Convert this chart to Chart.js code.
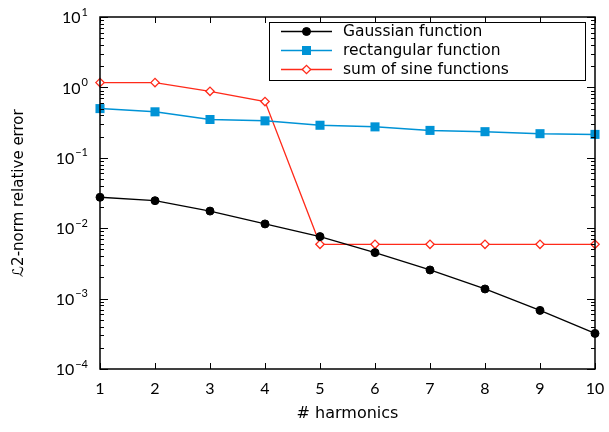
<!DOCTYPE html>
<html>
<head>
<meta charset="utf-8">
<script src="https://cdn.jsdelivr.net/npm/chart.js@4/dist/chart.umd.min.js"></script>
<style>
html,body{margin:0;padding:0;background:#fff;}
#wrap{width:609px;height:432px;position:relative;}
</style>
</head>
<body>
<div id="wrap"><canvas id="c" width="609" height="432"></canvas></div>
<script>
// ---- data ----
const harmonics = [1, 2, 3, 4, 5, 6, 7, 8, 9, 10];
const gaussian = [0.0275, 0.0246, 0.0175, 0.0115, 0.0076, 0.0045, 0.00255, 0.00137, 0.00068, 0.00032];
const rectangular = [0.50, 0.45, 0.35, 0.335, 0.29, 0.275, 0.245, 0.235, 0.22, 0.215];
const sineSum = [1.17, 1.17, 0.88, 0.63, 0.0059, 0.0059, 0.0059, 0.0059, 0.0059, 0.0059];
const seriesNames = ['Gaussian function', 'rectangular function', 'sum of sine functions'];
const yExponents = [-4, -3, -2, -1, 0, 1];
const xTitle = '# harmonics';
const yTitle = 'ℒ2-norm relative error';

const NUMFONT = 'Lato, "DejaVu Sans", sans-serif';
const TXTFONT = '"DejaVu Sans", sans-serif';

function pts(vals) { return harmonics.map((h, i) => ({x: h, y: vals[i]})); }
function supLabel(e) { return e < 0 ? '\u2212' + Math.abs(e) : String(e); }

const decoPlugin = {
  id: 'deco',
  afterDraw(chart) {
    const ctx = chart.ctx;
    const xs = chart.scales.x, ys = chart.scales.y;
    const a = chart.chartArea;
    ctx.save();
    ctx.strokeStyle = '#000';
    // ticks x
    ctx.lineWidth = 1;
    harmonics.forEach(h => {
      const px = Math.round(xs.getPixelForValue(h)) + 0.5;
      ctx.beginPath();
      ctx.moveTo(px, a.bottom); ctx.lineTo(px, a.bottom - 6);
      ctx.moveTo(px, a.top); ctx.lineTo(px, a.top + 6);
      ctx.stroke();
    });
    // ticks y
    for (let e = yExponents[0]; e <= yExponents[yExponents.length - 1]; e++) {
      for (let m = 1; m <= 9; m++) {
        if (e === yExponents[yExponents.length - 1] && m > 1) break;
        const v = m * Math.pow(10, e);
        const py = Math.round(ys.getPixelForValue(v)) + 0.5;
        const len = m === 1 ? 8 : 4;
        ctx.beginPath();
        ctx.moveTo(a.left, py); ctx.lineTo(a.left + len, py);
        ctx.moveTo(a.right, py); ctx.lineTo(a.right - len, py);
        ctx.stroke();
      }
    }
    // frame
    ctx.lineWidth = 1.5;
    ctx.strokeRect(a.left, a.top, a.right - a.left, a.bottom - a.top);

    // y tick labels with superscripts
    ctx.fillStyle = '#000';
    ctx.textBaseline = 'middle';
    ctx.textAlign = 'right';
    const rightX = a.left - 12;
    yExponents.forEach(e => {
      const py = ys.getPixelForValue(Math.pow(10, e));
      const sup = supLabel(e);
      ctx.font = '11px ' + NUMFONT;
      const w = ctx.measureText(sup).width;
      ctx.fillText(sup, rightX, py - 5);
      ctx.font = '16px ' + NUMFONT;
      ctx.fillText('10', rightX - w - 1, py + 1);
    });

    // axis titles
    ctx.font = '16px ' + TXTFONT;
    ctx.textAlign = 'center';
    ctx.textBaseline = 'middle';
    ctx.fillText(xTitle, (a.left + a.right) / 2, 414);
    ctx.save();
    ctx.font = '15px ' + TXTFONT;
    ctx.translate(19, (a.top + a.bottom) / 2);
    ctx.rotate(-Math.PI / 2);
    ctx.fillText(yTitle, 0, 0);
    ctx.restore();

    // legend
    const lx = 269, ly = 22, lw = 316, lh = 58;
    ctx.fillStyle = '#fff';
    ctx.fillRect(lx, ly, lw, lh);
    ctx.lineWidth = 1;
    ctx.strokeStyle = '#000';
    ctx.strokeRect(lx + 0.5, ly + 0.5, lw, lh);
    const rows = [31.5, 50.5, 69.5];
    chart.data.datasets.forEach((ds, i) => {
      const y = rows[i];
      ctx.strokeStyle = ds.borderColor;
      ctx.lineWidth = ds.borderWidth;
      ctx.beginPath();
      ctx.moveTo(281, y); ctx.lineTo(332, y);
      ctx.stroke();
      ctx.save();
      ctx.fillStyle = ds.pointBackgroundColor;
      ctx.strokeStyle = ds.pointBorderColor;
      ctx.lineWidth = ds.pointBorderWidth;
      Chart.helpers.drawPoint(ctx, {
        pointStyle: ds.pointStyle, radius: ds.pointRadius, borderWidth: ds.pointBorderWidth, rotation: 0
      }, 306.5, y);
      ctx.restore();
      ctx.fillStyle = '#000';
      ctx.font = '15.5px ' + TXTFONT;
      ctx.textAlign = 'left';
      ctx.textBaseline = 'middle';
      ctx.fillText(seriesNames[i], 343, y);
    });
    ctx.restore();
  }
};

new Chart(document.getElementById('c'), {
  type: 'line',
  data: {
    datasets: [
      {
        label: seriesNames[0], data: pts(gaussian),
        borderColor: '#000000', borderWidth: 1.3,
        pointStyle: 'circle', pointRadius: 4, pointBorderWidth: 1,
        pointBackgroundColor: '#000000', pointBorderColor: '#000000',
        clip: false
      },
      {
        label: seriesNames[1], data: pts(rectangular),
        borderColor: '#0093d6', borderWidth: 1.5,
        pointStyle: 'rect', pointRadius: 6.4, pointBorderWidth: 0,
        pointBackgroundColor: '#0093d6', pointBorderColor: '#0093d6',
        clip: false
      },
      {
        label: seriesNames[2], data: pts(sineSum),
        borderColor: '#ff2a1a', borderWidth: 1.3,
        pointStyle: 'rectRot', pointRadius: 4.2, pointBorderWidth: 1.3,
        pointBackgroundColor: '#ffffff', pointBorderColor: '#ff2a1a',
        clip: false
      }
    ]
  },
  options: {
    responsive: false,
    animation: false,
    devicePixelRatio: 1,
    layout: { padding: { top: 17, right: 14, left: 0, bottom: 0 } },
    plugins: { legend: { display: false }, tooltip: { enabled: false } },
    elements: { line: { tension: 0 } },
    scales: {
      x: {
        type: 'linear', min: harmonics[0], max: harmonics[harmonics.length - 1],
        grid: { display: false, drawTicks: false }, border: { display: false },
        afterBuildTicks: s => { s.ticks = harmonics.map(v => ({value: v})); },
        afterFit: s => { s.height = 63; s.paddingLeft = 0; s.paddingRight = 0; },
        ticks: { color: '#000', padding: 10, font: { family: NUMFONT, size: 16 }, maxRotation: 0, autoSkip: false,
                 callback: v => String(v) }
      },
      y: {
        type: 'logarithmic', min: Math.pow(10, yExponents[0]), max: Math.pow(10, yExponents[yExponents.length - 1]),
        grid: { display: false, drawTicks: false }, border: { display: false },
        afterFit: s => { s.width = 100; s.paddingTop = 0; s.paddingBottom = 0; },
        ticks: { display: false }
      }
    }
  },
  plugins: [decoPlugin]
});
</script>
</body>
</html>
